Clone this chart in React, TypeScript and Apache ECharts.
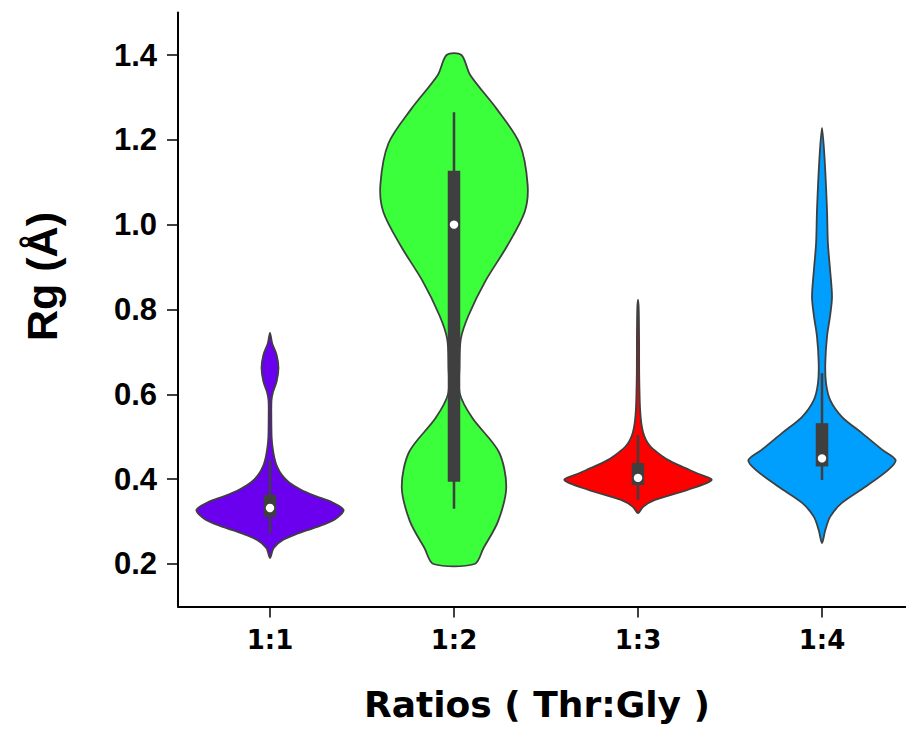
import React, { useEffect, useRef } from 'react';
import * as echarts from 'echarts';

const categories = ['1:1', '1:2', '1:3', '1:4'];
const yTickValues = [0.2, 0.4, 0.6, 0.8, 1.0, 1.2, 1.4];
const colors = ['#6a00ee', '#3bff3b', '#ff0000', '#009ffd'];

// kernel density outlines: [Rg value, relative half-width]
const density11 = [
  [0.214, 0], [0.238, 0.05], [0.257, 0.18], [0.272, 0.38], [0.287, 0.63], [0.305, 0.88],
  [0.327, 1.0], [0.345, 0.85], [0.36, 0.62], [0.375, 0.42], [0.392, 0.26], [0.41, 0.16],
  [0.43, 0.095], [0.45, 0.06], [0.475, 0.035], [0.5, 0.022], [0.55, 0.018], [0.585, 0.02],
  [0.605, 0.04], [0.63, 0.09], [0.662, 0.115], [0.693, 0.09], [0.72, 0.03], [0.745, 0],
];
const density12 = [
  [0.2, 0.28], [0.237, 0.4], [0.301, 0.6], [0.382, 0.71], [0.464, 0.61], [0.544, 0.25],
  [0.601, 0.08], [0.666, 0.075], [0.731, 0.093], [0.787, 0.2], [0.868, 0.43], [0.949, 0.72],
  [1.03, 0.96], [1.095, 1.0], [1.192, 0.89], [1.273, 0.58], [1.353, 0.22], [1.4, 0.1],
];
const density13 = [
  [0.32, 0], [0.335, 0.07], [0.351, 0.23], [0.375, 0.68], [0.398, 1.0], [0.414, 0.8],
  [0.43, 0.59], [0.446, 0.4], [0.462, 0.27], [0.477, 0.17], [0.492, 0.11], [0.51, 0.07],
  [0.532, 0.045], [0.56, 0.03], [0.595, 0.022], [0.65, 0.016], [0.72, 0.015], [0.8, 0.01],
  [0.823, 0],
];
const density14 = [
  [0.249, 0], [0.28, 0.045], [0.311, 0.11], [0.344, 0.27], [0.382, 0.59], [0.422, 0.9],
  [0.445, 1.0], [0.469, 0.82], [0.509, 0.54], [0.547, 0.27], [0.587, 0.11], [0.627, 0.054],
  [0.674, 0.045], [0.736, 0.068], [0.785, 0.11], [0.83, 0.136], [0.893, 0.11], [0.957, 0.08],
  [1.035, 0.068], [1.153, 0.036], [1.228, 0],
];
const densities = [density11, density12, density13, density14];

// inner box statistics
const whiskerLow = [0.273, 0.33, 0.351, 0.398];
const quartile1 = [0.311, 0.394, 0.386, 0.43];
const medians = [0.332, 1.0, 0.403, 0.449];
const quartile3 = [0.363, 1.127, 0.438, 0.532];
const whiskerHigh = [0.445, 1.265, 0.504, 0.65];

const EDGE = '#3f3f3f';

export default function App() {
  const ref = useRef<HTMLDivElement>(null);

  useEffect(() => {
    if (!ref.current) return;
    const chart = echarts.init(ref.current, null, { renderer: 'svg' });

    const renderItem = (params: any, api: any) => {
      const idx = api.value(0);
      const band = api.size([1, 0])[0];
      const cx = api.coord([idx, 0])[0];
      const halfMax = band * 0.4;
      const prof = densities[idx];
      const right: number[][] = [];
      const left: number[][] = [];
      prof.forEach(([v, d]) => {
        const y = api.coord([idx, v])[1];
        right.push([cx + d * halfMax, y]);
        if (d > 0) left.push([cx - d * halfMax, y]);
      });
      const pts = right.concat(left.reverse());
      const yQ1 = api.coord([idx, quartile1[idx]])[1];
      const yQ3 = api.coord([idx, quartile3[idx]])[1];
      const yLo = api.coord([idx, whiskerLow[idx]])[1];
      const yHi = api.coord([idx, whiskerHigh[idx]])[1];
      const yMed = api.coord([idx, medians[idx]])[1];
      const boxW = band * 0.068;
      return {
        type: 'group',
        children: [
          {
            type: 'polygon',
            shape: { points: pts, smooth: 0.3 },
            style: { fill: colors[idx], stroke: EDGE, lineWidth: 1.8 },
          },
          {
            type: 'line',
            shape: { x1: cx, y1: yLo, x2: cx, y2: yHi },
            style: { stroke: EDGE, lineWidth: 2.5 },
          },
          {
            type: 'rect',
            shape: { x: cx - boxW / 2, y: yQ3, width: boxW, height: yQ1 - yQ3 },
            style: { fill: EDGE },
          },
          {
            type: 'circle',
            shape: { cx, cy: yMed, r: 4.2 },
            style: { fill: '#ffffff' },
          },
        ],
      };
    };

    chart.setOption({
      animation: false,
      backgroundColor: '#ffffff',
      grid: {
        left: 178,
        top: 12.6,
        width: 736,
        height: 593.8,
        containLabel: false,
        outerBoundsMode: 'none',
      },
      xAxis: {
        type: 'category',
        data: categories,
        boundaryGap: true,
        axisLine: { show: true, lineStyle: { color: '#000', width: 2 } },
        axisTick: { show: true, alignWithLabel: true, length: 11, lineStyle: { color: '#000', width: 1.5 } },
        axisLabel: {
          color: '#000',
          fontFamily: 'DejaVu Sans',
          fontWeight: 'bold',
          fontSize: 26,
          margin: 21,
        },
        name: 'Ratios ( Thr:Gly )',
        nameLocation: 'middle',
        nameGap: 80,
        nameTextStyle: {
          color: '#000',
          fontFamily: 'DejaVu Sans',
          fontWeight: 'bold',
          fontSize: 36,
          padding: [0, 18, 0, 0],
        },
        splitLine: { show: false },
      },
      yAxis: {
        type: 'value',
        min: 0.1,
        max: 1.5,
        axisLine: { show: true, lineStyle: { color: '#000', width: 2 } },
        axisTick: {
          show: true,
          length: 11,
          customValues: yTickValues,
          lineStyle: { color: '#000', width: 1.5 },
        },
        axisLabel: {
          customValues: yTickValues,
          formatter: (v: number) => v.toFixed(1),
          color: '#000',
          fontFamily: 'Liberation Sans, Arial, sans-serif',
          fontWeight: 'bold',
          fontSize: 31,
          margin: 21,
        },
        splitLine: { show: false },
        name: 'Rg (Å)',
        nameLocation: 'middle',
        nameRotate: 90,
        nameGap: 115,
        nameTextStyle: {
          color: '#000',
          fontFamily: 'Liberation Sans, Arial, sans-serif',
          fontWeight: 'bold',
          fontSize: 43,
          padding: [0, 0, 0, 66],
        },
      },
      series: [
        {
          type: 'custom',
          renderItem,
          data: categories.map((_, i) => [i, medians[i]]),
          encode: { x: 0, y: 1 },
          clip: false,
        },
      ],
    });

    return () => chart.dispose();
  }, []);

  return (
    <div
      ref={ref}
      style={{ position: 'absolute', left: 0, top: 0, width: 906, height: 736 }}
    />
  );
}
